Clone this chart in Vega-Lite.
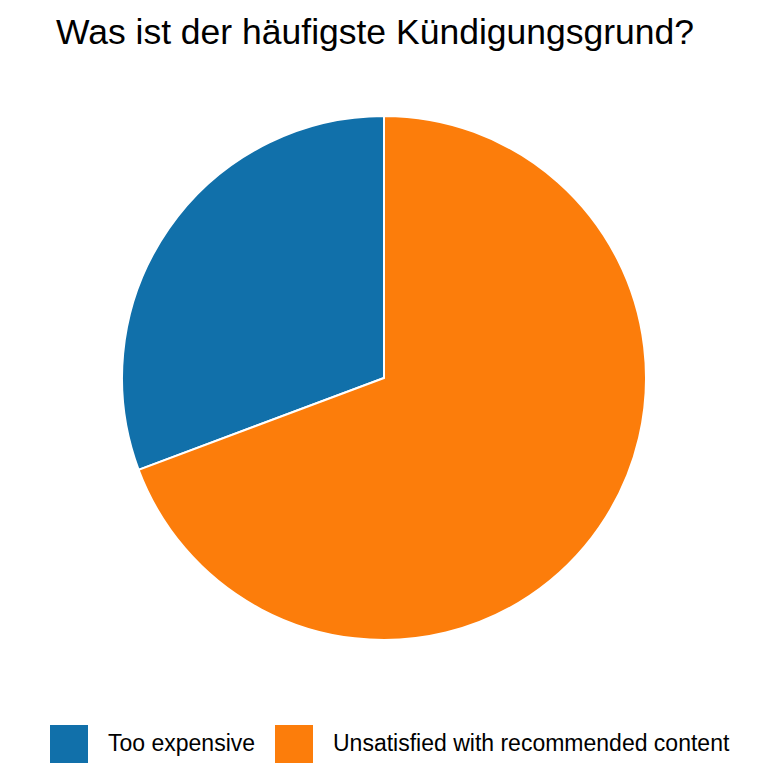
{
  "$schema": "https://vega.github.io/schema/vega-lite/v6.json",
  "autosize": "none",
  "width": 768,
  "height": 636,
  "padding": {"top": 60, "left": 0, "right": 0, "bottom": 72},
  "background": "white",
  "title": {
    "text": "Was ist der häufigste Kündigungsgrund?",
    "font": "Liberation Sans",
    "fontSize": 35.5,
    "fontWeight": "normal",
    "color": "black",
    "anchor": "middle",
    "dx": -9,
    "offset": 9
  },
  "data": {
    "values": [
      {"reason": "Too expensive", "share": 30.7, "ord": 2},
      {"reason": "Unsatisfied with recommended content", "share": 69.3, "ord": 1}
    ]
  },
  "mark": {"type": "arc", "radius": 262, "stroke": "white", "strokeWidth": 2},
  "encoding": {
    "theta": {"field": "share", "type": "quantitative", "stack": true},
    "order": {"field": "ord", "type": "quantitative"},
    "color": {
      "field": "reason",
      "type": "nominal",
      "scale": {
        "domain": ["Too expensive", "Unsatisfied with recommended content"],
        "range": ["#1170aa", "#fc7d0b"]
      },
      "legend": {
        "title": null,
        "orient": "none",
        "direction": "horizontal",
        "legendX": 50,
        "legendY": 665,
        "symbolType": "square",
        "symbolSize": 1444,
        "symbolStrokeWidth": 0,
        "symbolOpacity": 1,
        "labelFont": "Liberation Sans",
        "labelFontSize": 23,
        "labelColor": "black",
        "labelOffset": 20,
        "columnPadding": 19,
        "labelLimit": 600
      }
    }
  },
  "config": {"view": {"stroke": null}}
}
